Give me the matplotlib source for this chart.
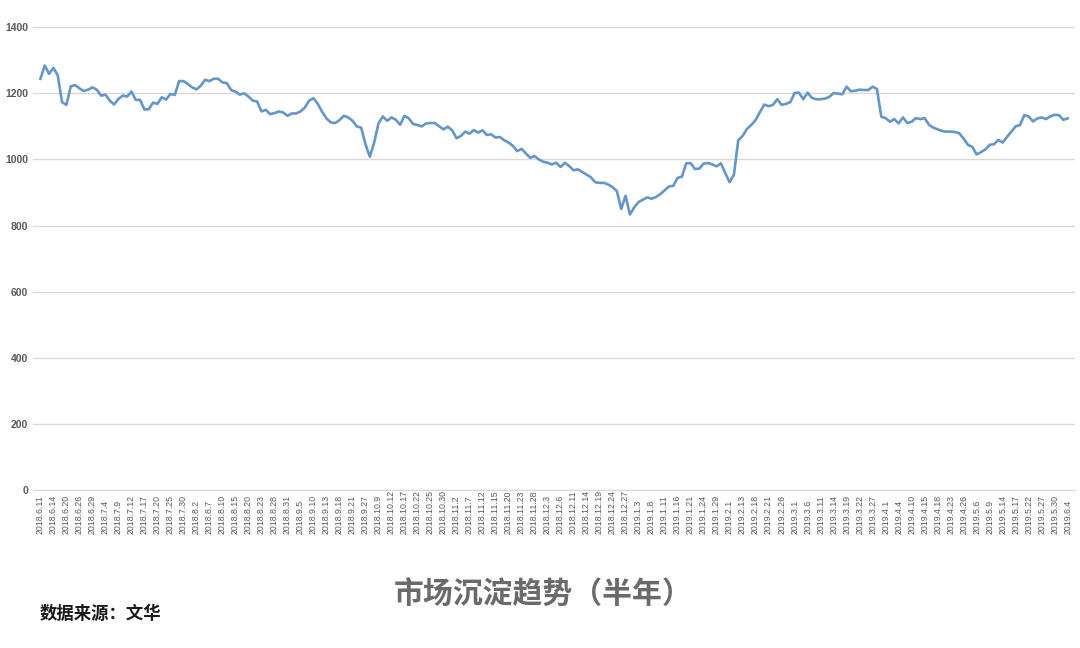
import matplotlib
matplotlib.use("Agg")
import matplotlib.pyplot as plt

plt.rcParams['font.family'] = ['Liberation Sans', 'Noto Sans CJK SC', 'DejaVu Sans']

# daily values (2018.6.11 - 2019.6.4)
values = [
    1244, 1284, 1259, 1277, 1254, 1173, 1165, 1221, 1225, 1215,
    1207, 1211, 1218, 1211, 1193, 1196, 1178, 1166, 1183, 1193,
    1190, 1205, 1180, 1180, 1151, 1152, 1172, 1168, 1188, 1181,
    1198, 1195, 1237, 1237, 1228, 1218, 1212, 1223, 1241, 1237,
    1244, 1244, 1233, 1231, 1210, 1205, 1196,
    1200, 1190, 1178, 1175, 1145, 1150, 1137, 1140, 1145, 1142,
    1132, 1139, 1139, 1145, 1157, 1178, 1185, 1168, 1144, 1124,
    1112, 1110, 1119, 1132, 1127, 1117, 1100, 1096, 1046, 1008,
    1051, 1109, 1130, 1117, 1127, 1120, 1105, 1132, 1124, 1107,
    1104, 1100, 1109, 1110, 1110, 1100, 1091,
    1099, 1088, 1064, 1071, 1084, 1078, 1089, 1081, 1088, 1074,
    1076, 1066, 1068, 1058, 1051, 1041, 1025, 1032, 1018, 1005,
    1010, 1000, 993, 990, 985, 990, 977, 990, 980, 967,
    970, 962, 954, 946, 931, 929, 929, 924, 916, 904,
    850, 890, 833, 855, 871, 878, 885,
    881, 886, 895, 906, 918, 920, 944, 948, 988, 989,
    971, 972, 987, 989, 985, 979, 988, 959, 931, 954,
    1058, 1071, 1092, 1104, 1119, 1143, 1166, 1161, 1165, 1182,
    1165, 1168, 1173, 1201, 1202, 1182, 1202, 1186, 1182, 1182,
    1184, 1189, 1201, 1199, 1197, 1220, 1206,
    1208, 1211, 1210, 1210, 1220, 1213, 1129, 1125, 1114, 1122,
    1109, 1127, 1110, 1114, 1125, 1122, 1125, 1105, 1096, 1091,
    1086, 1084, 1084, 1083, 1079, 1063, 1044, 1038, 1015, 1022,
    1030, 1044, 1046, 1059, 1051, 1068, 1084, 1100, 1104, 1134,
    1130, 1115, 1124, 1127, 1122, 1130, 1135, 1134, 1120, 1124,
]

# every third day is labelled on the axis
tick_labels = [
    "2018.6.11", "2018.6.14", "2018.6.20", "2018.6.26", "2018.6.29", "2018.7.4",
    "2018.7.9", "2018.7.12", "2018.7.17", "2018.7.20", "2018.7.25", "2018.7.30",
    "2018.8.2", "2018.8.7", "2018.8.10", "2018.8.15", "2018.8.20", "2018.8.23",
    "2018.8.28", "2018.8.31", "2018.9.5", "2018.9.10", "2018.9.13", "2018.9.18",
    "2018.9.21", "2018.9.27", "2018.10.9", "2018.10.12", "2018.10.17", "2018.10.22",
    "2018.10.25", "2018.10.30", "2018.11.2", "2018.11.7", "2018.11.12", "2018.11.15",
    "2018.11.20", "2018.11.23", "2018.11.28", "2018.12.3", "2018.12.6", "2018.12.11",
    "2018.12.14", "2018.12.19", "2018.12.24", "2018.12.27", "2019.1.3", "2019.1.8",
    "2019.1.11", "2019.1.16", "2019.1.21", "2019.1.24", "2019.1.29", "2019.2.1",
    "2019.2.13", "2019.2.18", "2019.2.21", "2019.2.26", "2019.3.1", "2019.3.6",
    "2019.3.11", "2019.3.14", "2019.3.19", "2019.3.22", "2019.3.27", "2019.4.1",
    "2019.4.4", "2019.4.10", "2019.4.15", "2019.4.18", "2019.4.23", "2019.4.26",
    "2019.5.6", "2019.5.9", "2019.5.14", "2019.5.17", "2019.5.22", "2019.5.27",
    "2019.5.30", "2019.6.4",
]
y_ticks = [0, 200, 400, 600, 800, 1000, 1200, 1400]

fig = plt.figure(figsize=(10.8, 6.48), dpi=100)
ax = fig.add_axes([0.031, 0.244, 0.964, 0.714])

x = list(range(len(values)))
ax.plot(x, values, color='#6496c8', linewidth=1.9, solid_joinstyle='round')

ax.set_xlim(-1.6, len(values) + 0.6)
ax.set_ylim(0, 1400)
ax.set_yticks(y_ticks)
ax.set_yticklabels([str(v) for v in y_ticks], fontsize=7.5, fontweight='bold', color='#595959')
ax.yaxis.grid(True, color='#d9d9d9', linewidth=1)
ax.set_axisbelow(True)

tick_pos = [3 * k for k in range(len(tick_labels))]
ax.set_xticks(tick_pos)
ax.set_xticklabels(tick_labels, rotation=90, rotation_mode='anchor', ha='left', va='center',
                   fontsize=6.3, color='#595959')
ax.tick_params(axis='x', length=0, pad=32)
ax.tick_params(axis='y', length=0, pad=4)

for s in ['top', 'right', 'left']:
    ax.spines[s].set_visible(False)
ax.spines['bottom'].set_color('#d9d9d9')

fig.text(0.503, 0.082, "市场沉淀趋势（半年）", ha='center', va='center', fontsize=21.5,
         fontweight='bold', color='#6a6a6a', family=['Noto Sans CJK SC', 'DejaVu Sans'])
fig.text(0.037, 0.052, "数据来源：文华", ha='left', va='center', fontsize=12.5, fontweight='bold',
         color='#1a1a1a', family=['Noto Sans CJK SC', 'DejaVu Sans'])

fig.savefig('out.png', dpi=100)
